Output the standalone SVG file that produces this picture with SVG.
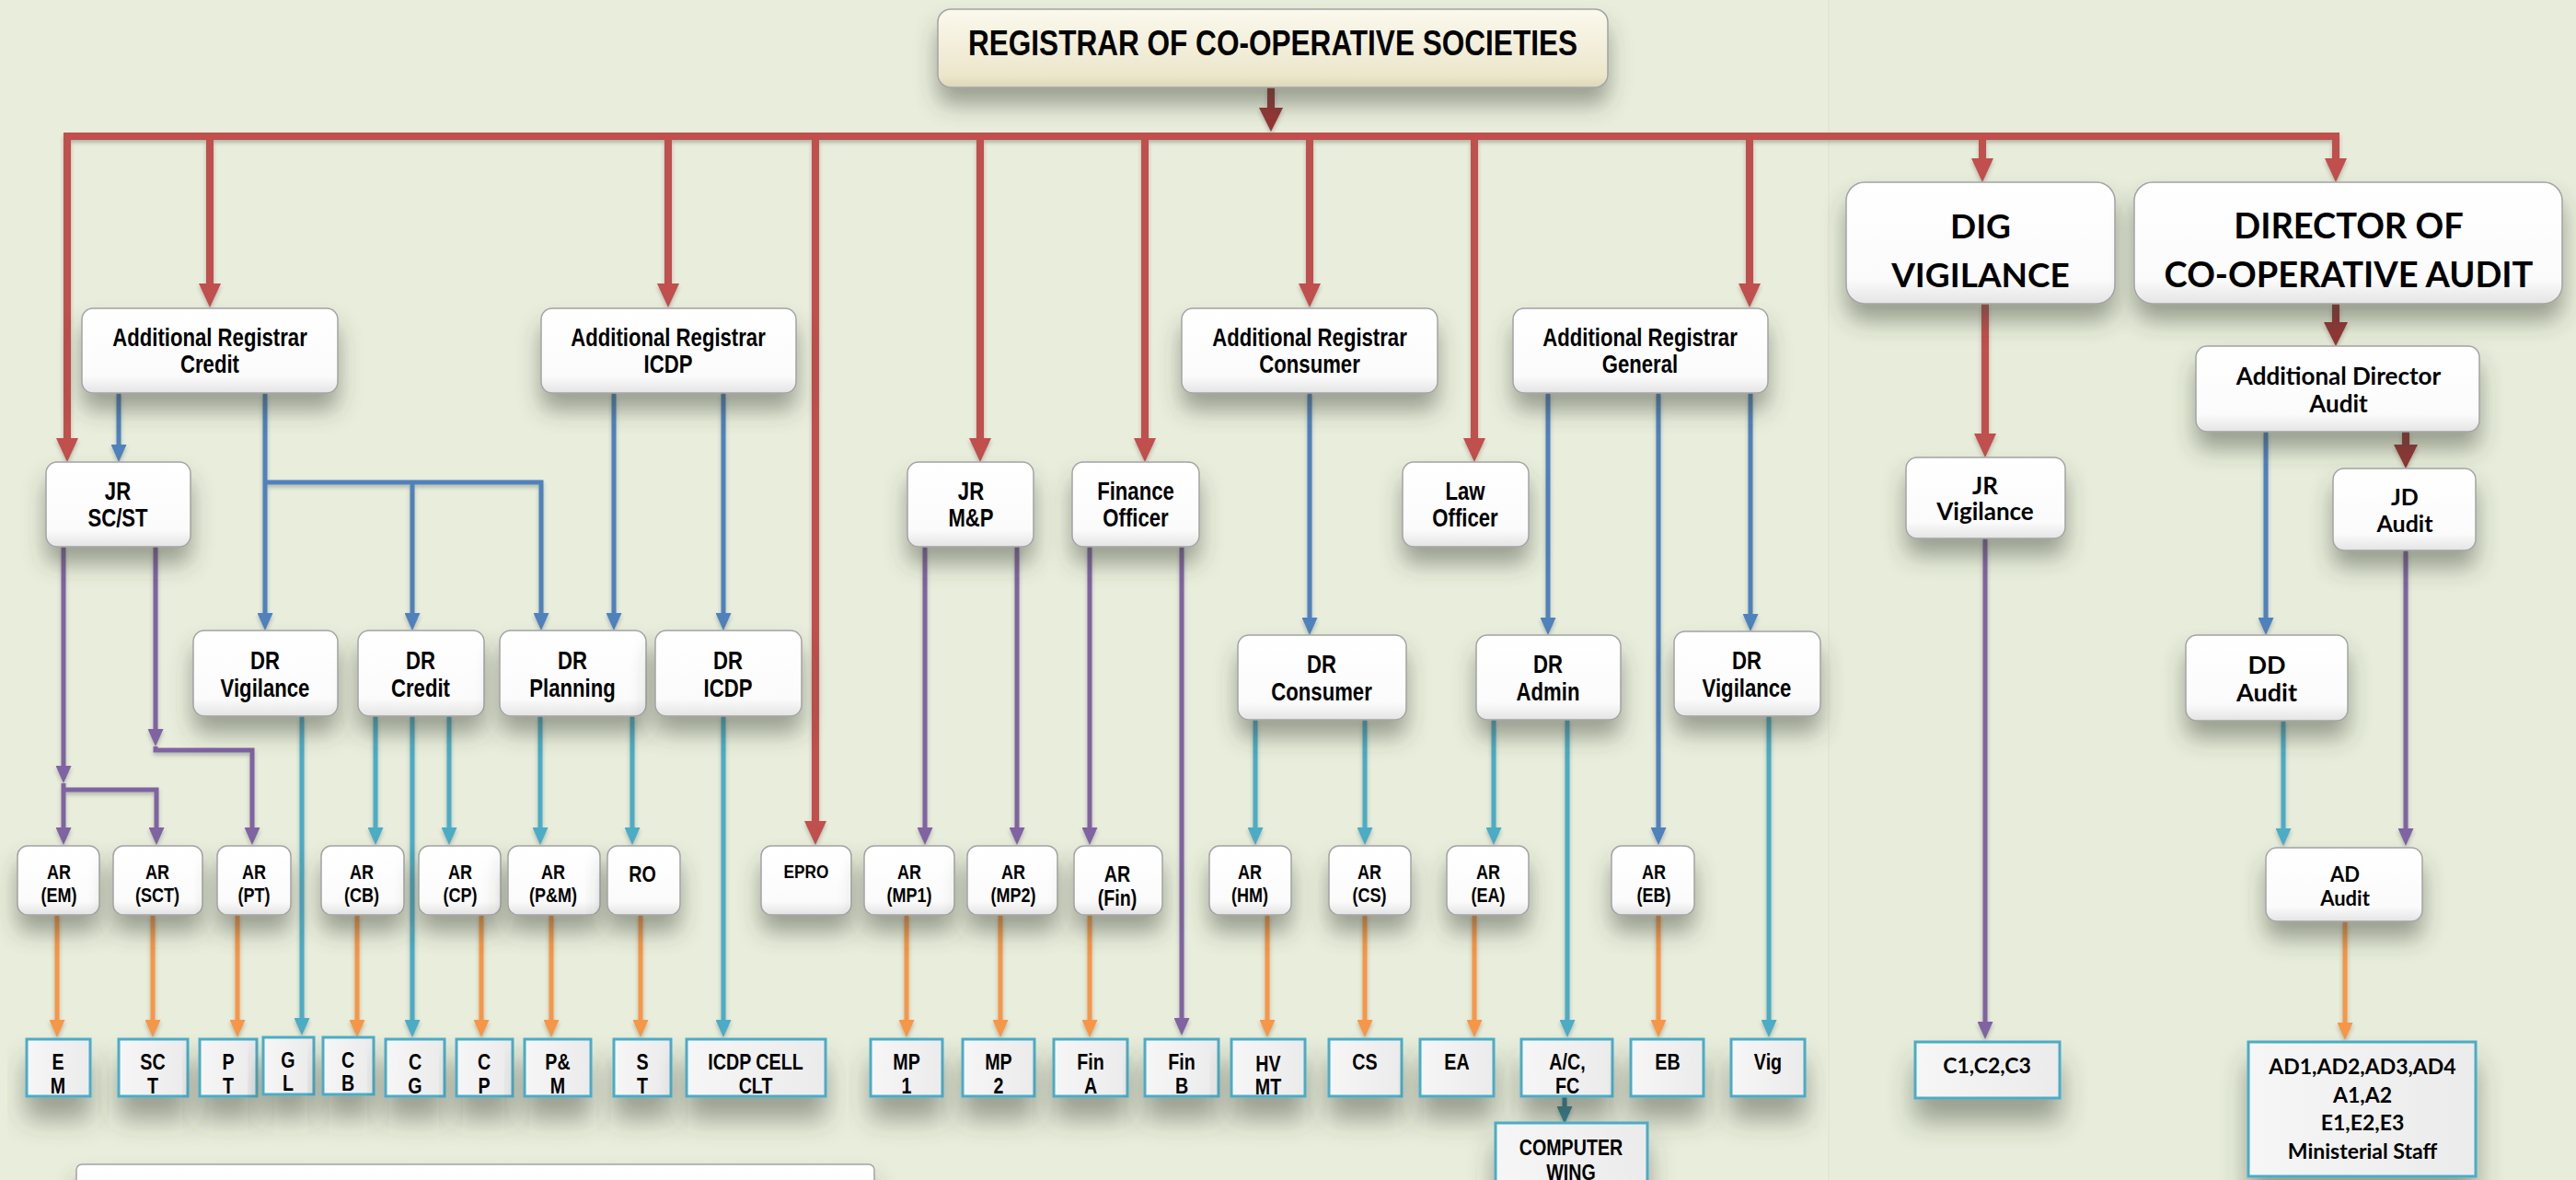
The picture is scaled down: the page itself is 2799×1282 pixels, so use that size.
<svg xmlns="http://www.w3.org/2000/svg" width="2799" height="1282" viewBox="0 0 2799 1282">
<defs>
<linearGradient id="gW" x1="0" y1="0" x2="0" y2="1"><stop offset="0" stop-color="#ffffff"/><stop offset="0.8" stop-color="#fbfbfb"/><stop offset="1" stop-color="#e4e4e4"/></linearGradient>
<linearGradient id="gTop" x1="0" y1="0" x2="0" y2="1"><stop offset="0" stop-color="#fbf9ee"/><stop offset="0.85" stop-color="#ece6cb"/><stop offset="1" stop-color="#ddd6b8"/></linearGradient>
<linearGradient id="gLeaf" x1="0" y1="0" x2="1" y2="0"><stop offset="0" stop-color="#f6f6f6"/><stop offset="1" stop-color="#ebebeb"/></linearGradient>
<filter id="sh" x="-30%" y="-30%" width="160%" height="200%"><feDropShadow dx="0" dy="18" stdDeviation="12" flood-color="#3a4230" flood-opacity="0.45"/></filter>
<filter id="sh2" x="-30%" y="-30%" width="160%" height="240%"><feDropShadow dx="0" dy="24" stdDeviation="14" flood-color="#3a4230" flood-opacity="0.45"/></filter>
<filter id="ls" filterUnits="userSpaceOnUse" x="0" y="0" width="2799" height="1282"><feDropShadow dx="0" dy="3" stdDeviation="2" flood-color="#303828" flood-opacity="0.3"/></filter>
<marker id="mR" markerUnits="userSpaceOnUse" markerWidth="26" markerHeight="24" viewBox="0 0 26 24" refX="0" refY="12" orient="auto"><path d="M0,0 L26,12 L0,24 z" fill="#c0504d"/></marker>
<marker id="mD" markerUnits="userSpaceOnUse" markerWidth="26" markerHeight="26" viewBox="0 0 26 26" refX="0" refY="13" orient="auto"><path d="M0,0 L26,13 L0,26 z" fill="#943634"/></marker>
<marker id="mB" markerUnits="userSpaceOnUse" markerWidth="19" markerHeight="17" viewBox="0 0 19 17" refX="0" refY="8.5" orient="auto"><path d="M0,0 L19,8.5 L0,17 z" fill="#4f81bd"/></marker>
<marker id="mP" markerUnits="userSpaceOnUse" markerWidth="19" markerHeight="17" viewBox="0 0 19 17" refX="0" refY="8.5" orient="auto"><path d="M0,0 L19,8.5 L0,17 z" fill="#8064a2"/></marker>
<marker id="mC" markerUnits="userSpaceOnUse" markerWidth="19" markerHeight="17" viewBox="0 0 19 17" refX="0" refY="8.5" orient="auto"><path d="M0,0 L19,8.5 L0,17 z" fill="#4bacc6"/></marker>
<marker id="mO" markerUnits="userSpaceOnUse" markerWidth="19" markerHeight="17" viewBox="0 0 19 17" refX="0" refY="8.5" orient="auto"><path d="M0,0 L19,8.5 L0,17 z" fill="#f79646"/></marker>
<marker id="mT" markerUnits="userSpaceOnUse" markerWidth="19" markerHeight="17" viewBox="0 0 19 17" refX="0" refY="8.5" orient="auto"><path d="M0,0 L19,8.5 L0,17 z" fill="#31849b"/></marker>
</defs>
<style>
.box{fill:url(#gW);stroke:#a3a3a3;stroke-width:1.5;filter:url(#sh)}
.top{fill:url(#gTop);stroke:#a3a3a3;stroke-width:1.5;filter:url(#sh)}
.leaf{fill:url(#gLeaf);stroke:#4bacc6;stroke-width:3;filter:url(#sh2)}
.t{font-family:"Liberation Sans",Arial,sans-serif;font-weight:bold;text-anchor:middle;fill:#000;transform-box:fill-box;transform-origin:center;transform:scaleX(0.82)}
.c{font-family:Lato,"Liberation Sans",sans-serif;font-weight:bold;text-anchor:middle;fill:#000}
.big{font-size:27px}.s24{font-size:24px}.s21{font-size:21px}.s22{font-size:22px}
.cn path{fill:none;stroke-width:5}
.cn .r{stroke:#c0504d;stroke-width:8;marker-end:url(#mR)}
.cn .rl{stroke:#c0504d;stroke-width:8}
.cn .d{stroke:#943634;stroke-width:8;marker-end:url(#mD)}
.cn .b{stroke:#4f81bd;marker-end:url(#mB)}
.cn .p{stroke:#8064a2;marker-end:url(#mP)}
.cn .c{stroke:#4bacc6;marker-end:url(#mC)}
.cn .o{stroke:#f79646;marker-end:url(#mO)}
.cn .tl{stroke:#31849b;marker-end:url(#mT)}
</style>
<rect x="0" y="0" width="2799" height="1282" fill="#e9eedc"/>
<rect x="1987" y="0" width="812" height="1282" fill="#e7edda"/>
<line x1="1987" y1="0" x2="1987" y2="1282" stroke="#dde3cf" stroke-width="1"/>

<g id="connectors" class="cn" filter="url(#ls)">
<path class="rl" d="M69,148 H2542"/>
<path class="r" d="M73,148 V476"/>
<path class="r" d="M228,148 V308"/>
<path class="r" d="M726,148 V308"/>
<path class="r" d="M886,148 V892"/>
<path class="r" d="M1065,148 V476"/>
<path class="r" d="M1244,148 V476"/>
<path class="r" d="M1423,148 V308"/>
<path class="r" d="M1602,148 V476"/>
<path class="r" d="M1901,148 V308"/>
<path class="r" d="M2154,148 V172"/>
<path class="r" d="M2538,148 V172"/>
<path class="r" d="M2157,330 V471"/>
<path class="d" d="M1381,95 V117"/>
<path class="d" d="M2538,330 V350"/>
<path class="d" d="M2614,469 V483"/>
<path class="b" d="M129,427 V483"/>
<path class="b" d="M288,427 V666"/>
<path class="b" d="M288,524 H588 V666"/>
<path class="b" d="M448,524 V666"/>
<path class="b" d="M667,427 V666"/>
<path class="b" d="M786,427 V666"/>
<path class="b" d="M1423,427 V671"/>
<path class="b" d="M1682,427 V671"/>
<path class="b" d="M1802,427 V899"/>
<path class="b" d="M1902,427 V667"/>
<path class="b" d="M2462,469 V671"/>
<path class="p" d="M69,594 V832"/>
<path class="p" d="M69,851 V899"/>
<path class="p" d="M69,858 H170 V899"/>
<path class="p" d="M169,594 V792"/>
<path class="p" d="M169,811 V815 H274 V899"/>
<path class="p" d="M1005,594 V899"/>
<path class="p" d="M1105,594 V899"/>
<path class="p" d="M1184,594 V899"/>
<path class="p" d="M1284,594 V1106"/>
<path class="p" d="M2157,585 V1110"/>
<path class="p" d="M2614,598 V900"/>
<path class="c" d="M328,778 V1106"/>
<path class="c" d="M408,778 V899"/>
<path class="c" d="M448,778 V1108"/>
<path class="c" d="M488,778 V899"/>
<path class="c" d="M587,778 V899"/>
<path class="c" d="M687,778 V899"/>
<path class="c" d="M786,778 V1108"/>
<path class="c" d="M1364,782 V899"/>
<path class="c" d="M1483,782 V899"/>
<path class="c" d="M1623,782 V899"/>
<path class="c" d="M1703,782 V1108"/>
<path class="c" d="M1922,778 V1108"/>
<path class="c" d="M2481,783 V900"/>
<path class="o" d="M62,994 V1108"/>
<path class="o" d="M166,994 V1108"/>
<path class="o" d="M258,994 V1108"/>
<path class="o" d="M388,994 V1108"/>
<path class="o" d="M523,994 V1108"/>
<path class="o" d="M599,994 V1108"/>
<path class="o" d="M696,994 V1108"/>
<path class="o" d="M985,994 V1108"/>
<path class="o" d="M1087,994 V1108"/>
<path class="o" d="M1184,994 V1108"/>
<path class="o" d="M1377,994 V1108"/>
<path class="o" d="M1483,994 V1108"/>
<path class="o" d="M1602,994 V1108"/>
<path class="o" d="M1802,994 V1108"/>
<path class="o" d="M2548,1001 V1111"/>
<path class="tl" d="M1700,1191 V1202"/>
</g>

<g id="n-registrar"><rect class="top" x="1019" y="10" width="728" height="85" rx="14"/><text class="t" x="1383" y="60" font-size="38.5">REGISTRAR OF CO-OPERATIVE SOCIETIES</text></g>

<g id="n-ar-credit"><rect class="box" x="89" y="335" width="278" height="92" rx="12"/><text class="t big" x="228" y="376">Additional Registrar</text><text class="t big" x="228" y="405">Credit</text></g>
<g id="n-ar-icdp"><rect class="box" x="588" y="335" width="277" height="92" rx="12"/><text class="t big" x="726" y="376">Additional Registrar</text><text class="t big" x="726" y="405">ICDP</text></g>
<g id="n-ar-consumer"><rect class="box" x="1284" y="335" width="278" height="92" rx="12"/><text class="t big" x="1423" y="376">Additional Registrar</text><text class="t big" x="1423" y="405">Consumer</text></g>
<g id="n-ar-general"><rect class="box" x="1644" y="335" width="277" height="92" rx="12"/><text class="t big" x="1782" y="376">Additional Registrar</text><text class="t big" x="1782" y="405">General</text></g>

<g id="n-jr-scst"><rect class="box" x="50" y="502" width="157" height="92" rx="12"/><text class="t big" x="128" y="543">JR</text><text class="t big" x="128" y="572">SC/ST</text></g>
<g id="n-jr-mp"><rect class="box" x="986" y="502" width="137" height="92" rx="12"/><text class="t big" x="1055" y="543">JR</text><text class="t big" x="1055" y="572">M&amp;P</text></g>
<g id="n-finance"><rect class="box" x="1165" y="502" width="138" height="92" rx="12"/><text class="t big" x="1234" y="543">Finance</text><text class="t big" x="1234" y="572">Officer</text></g>
<g id="n-law"><rect class="box" x="1524" y="502" width="137" height="92" rx="12"/><text class="t big" x="1592" y="543">Law</text><text class="t big" x="1592" y="572">Officer</text></g>

<g id="n-dr-vig1"><rect class="box" x="210" y="685" width="157" height="93" rx="12"/><text class="t big" x="288" y="727">DR</text><text class="t big" x="288" y="757">Vigilance</text></g>
<g id="n-dr-credit"><rect class="box" x="389" y="685" width="137" height="93" rx="12"/><text class="t big" x="457" y="727">DR</text><text class="t big" x="457" y="757">Credit</text></g>
<g id="n-dr-planning"><rect class="box" x="543" y="685" width="159" height="93" rx="12"/><text class="t big" x="622" y="727">DR</text><text class="t big" x="622" y="757">Planning</text></g>
<g id="n-dr-icdp"><rect class="box" x="712" y="685" width="159" height="93" rx="12"/><text class="t big" x="791" y="727">DR</text><text class="t big" x="791" y="757">ICDP</text></g>
<g id="n-dr-consumer"><rect class="box" x="1345" y="690" width="183" height="92" rx="12"/><text class="t big" x="1436" y="731">DR</text><text class="t big" x="1436" y="761">Consumer</text></g>
<g id="n-dr-admin"><rect class="box" x="1604" y="690" width="157" height="92" rx="12"/><text class="t big" x="1682" y="731">DR</text><text class="t big" x="1682" y="761">Admin</text></g>
<g id="n-dr-vig2"><rect class="box" x="1819" y="686" width="159" height="92" rx="12"/><text class="t big" x="1898" y="727">DR</text><text class="t big" x="1898" y="757">Vigilance</text></g>

<g id="n-ar-em"><rect class="box" x="19" y="919" width="89" height="75" rx="11"/><text class="t s22" x="64" y="955">AR</text><text class="t s22" x="64" y="980">(EM)</text></g>
<g id="n-ar-sct"><rect class="box" x="123" y="919" width="97" height="75" rx="11"/><text class="t s22" x="171" y="955">AR</text><text class="t s22" x="171" y="980">(SCT)</text></g>
<g id="n-ar-pt"><rect class="box" x="236" y="919" width="80" height="75" rx="11"/><text class="t s22" x="276" y="955">AR</text><text class="t s22" x="276" y="980">(PT)</text></g>
<g id="n-ar-cb"><rect class="box" x="349" y="919" width="90" height="75" rx="11"/><text class="t s22" x="393" y="955">AR</text><text class="t s22" x="393" y="980">(CB)</text></g>
<g id="n-ar-cp"><rect class="box" x="455" y="919" width="89" height="75" rx="11"/><text class="t s22" x="500" y="955">AR</text><text class="t s22" x="500" y="980">(CP)</text></g>
<g id="n-ar-pm"><rect class="box" x="552" y="919" width="100" height="75" rx="11"/><text class="t s22" x="601" y="955">AR</text><text class="t s22" x="601" y="980">(P&amp;M)</text></g>
<g id="n-ro"><rect class="box" x="660" y="919" width="79" height="75" rx="11"/><text class="t s24" x="698" y="958">RO</text></g>
<g id="n-epro"><rect class="box" x="827" y="919" width="98" height="75" rx="11"/><text class="t s21" x="876" y="954">EPRO</text></g>
<g id="n-ar-mp1"><rect class="box" x="939" y="919" width="98" height="75" rx="11"/><text class="t s22" x="988" y="955">AR</text><text class="t s22" x="988" y="980">(MP1)</text></g>
<g id="n-ar-mp2"><rect class="box" x="1051" y="919" width="98" height="75" rx="11"/><text class="t s22" x="1101" y="955">AR</text><text class="t s22" x="1101" y="980">(MP2)</text></g>
<g id="n-ar-fin"><rect class="box" x="1167" y="919" width="96" height="75" rx="11"/><text class="t s24" x="1214" y="958">AR</text><text class="t s24" x="1214" y="984">(Fin)</text></g>
<g id="n-ar-hm"><rect class="box" x="1314" y="919" width="89" height="75" rx="11"/><text class="t s22" x="1358" y="955">AR</text><text class="t s22" x="1358" y="980">(HM)</text></g>
<g id="n-ar-cs"><rect class="box" x="1444" y="919" width="89" height="75" rx="11"/><text class="t s22" x="1488" y="955">AR</text><text class="t s22" x="1488" y="980">(CS)</text></g>
<g id="n-ar-ea"><rect class="box" x="1572" y="919" width="89" height="75" rx="11"/><text class="t s22" x="1617" y="955">AR</text><text class="t s22" x="1617" y="980">(EA)</text></g>
<g id="n-ar-eb"><rect class="box" x="1751" y="919" width="90" height="75" rx="11"/><text class="t s22" x="1797" y="955">AR</text><text class="t s22" x="1797" y="980">(EB)</text></g>

<g id="l-em"><rect class="leaf" x="29" y="1129" width="69" height="62"/><text class="t s24" x="63" y="1162">E</text><text class="t s24" x="63" y="1188">M</text></g>
<g id="l-sct"><rect class="leaf" x="129" y="1129" width="75" height="62"/><text class="t s24" x="166" y="1162">SC</text><text class="t s24" x="166" y="1188">T</text></g>
<g id="l-pt"><rect class="leaf" x="217" y="1129" width="62" height="62"/><text class="t s24" x="248" y="1162">P</text><text class="t s24" x="248" y="1188">T</text></g>
<g id="l-gl"><rect class="leaf" x="286" y="1127" width="55" height="62"/><text class="t s24" x="313" y="1160">G</text><text class="t s24" x="313" y="1185">L</text></g>
<g id="l-cb"><rect class="leaf" x="351" y="1127" width="55" height="62"/><text class="t s24" x="378" y="1160">C</text><text class="t s24" x="378" y="1185">B</text></g>
<g id="l-cg"><rect class="leaf" x="419" y="1129" width="64" height="62"/><text class="t s24" x="451" y="1162">C</text><text class="t s24" x="451" y="1188">G</text></g>
<g id="l-cp"><rect class="leaf" x="496" y="1129" width="61" height="62"/><text class="t s24" x="526" y="1162">C</text><text class="t s24" x="526" y="1188">P</text></g>
<g id="l-pm"><rect class="leaf" x="570" y="1129" width="72" height="62"/><text class="t s24" x="606" y="1162">P&amp;</text><text class="t s24" x="606" y="1188">M</text></g>
<g id="l-st"><rect class="leaf" x="667" y="1129" width="62" height="62"/><text class="t s24" x="698" y="1162">S</text><text class="t s24" x="698" y="1188">T</text></g>
<g id="l-icdp"><rect class="leaf" x="746" y="1129" width="151" height="62"/><text class="t s24" x="821" y="1162">ICDP CELL</text><text class="t s24" x="821" y="1188">CLT</text></g>
<g id="l-mp1"><rect class="leaf" x="946" y="1129" width="78" height="62"/><text class="t s24" x="985" y="1162">MP</text><text class="t s24" x="985" y="1188">1</text></g>
<g id="l-mp2"><rect class="leaf" x="1046" y="1129" width="78" height="62"/><text class="t s24" x="1085" y="1162">MP</text><text class="t s24" x="1085" y="1188">2</text></g>
<g id="l-fina"><rect class="leaf" x="1145" y="1129" width="80" height="62"/><text class="t s24" x="1185" y="1162">Fin</text><text class="t s24" x="1185" y="1188">A</text></g>
<g id="l-finb"><rect class="leaf" x="1244" y="1129" width="80" height="62"/><text class="t s24" x="1284" y="1162">Fin</text><text class="t s24" x="1284" y="1188">B</text></g>
<g id="l-hvmt"><rect class="leaf" x="1338" y="1129" width="80" height="62"/><text class="t s24" x="1378" y="1164">HV</text><text class="t s24" x="1378" y="1189">MT</text></g>
<g id="l-cs"><rect class="leaf" x="1444" y="1129" width="79" height="62"/><text class="t s24" x="1483" y="1162">CS</text></g>
<g id="l-ea"><rect class="leaf" x="1543" y="1129" width="80" height="62"/><text class="t s24" x="1583" y="1162">EA</text></g>
<g id="l-acfc"><rect class="leaf" x="1653" y="1129" width="99" height="62"/><text class="t s24" x="1703" y="1162">A/C,</text><text class="t s24" x="1703" y="1188">FC</text></g>
<g id="l-eb"><rect class="leaf" x="1772" y="1129" width="79" height="62"/><text class="t s24" x="1812" y="1162">EB</text></g>
<g id="l-vig"><rect class="leaf" x="1881" y="1129" width="80" height="62"/><text class="t s24" x="1921" y="1162">Vig</text></g>
<g id="l-computer"><rect class="leaf" x="1625" y="1220" width="165" height="80"/><text class="t s24" x="1707" y="1255">COMPUTER</text><text class="t s24" x="1707" y="1282">WING</text></g>
<g id="bottom-bar"><rect class="box" x="83" y="1265" width="867" height="40" rx="6"/></g>

<g id="n-dig"><rect class="box" x="2006" y="198" width="292" height="132" rx="20"/><text class="c" x="2152" y="259" font-size="37">DIG</text><text class="c" x="2152" y="312" font-size="37">VIGILANCE</text></g>
<g id="n-director"><rect class="box" x="2319" y="198" width="465" height="132" rx="20"/><text class="c" x="2552" y="259" font-size="38">DIRECTOR OF</text><text class="c" x="2552" y="312" font-size="38">CO-OPERATIVE AUDIT</text></g>
<g id="n-ada"><rect class="box" x="2386" y="376" width="308" height="93" rx="12"/><text class="c" x="2541" y="418" font-size="26">Additional Director</text><text class="c" x="2541" y="448" font-size="26">Audit</text></g>
<g id="n-jr-vig"><rect class="box" x="2071" y="497" width="173" height="88" rx="12"/><text class="c" x="2157" y="537" font-size="26">JR</text><text class="c" x="2157" y="565" font-size="26">Vigilance</text></g>
<g id="n-jd"><rect class="box" x="2535" y="509" width="155" height="89" rx="12"/><text class="c" x="2613" y="549" font-size="25">JD</text><text class="c" x="2613" y="578" font-size="25">Audit</text></g>
<g id="n-dd"><rect class="box" x="2375" y="690" width="176" height="93" rx="12"/><text class="c" x="2463" y="732" font-size="27">DD</text><text class="c" x="2463" y="762" font-size="27">Audit</text></g>
<g id="n-ad"><rect class="box" x="2462" y="921" width="170" height="80" rx="12"/><text class="c" x="2548" y="958" font-size="22">AD</text><text class="c" x="2548" y="984" font-size="22">Audit</text></g>
<g id="l-c123"><rect class="leaf" x="2081" y="1132" width="157" height="61"/><text class="c" x="2159" y="1166" font-size="23">C1,C2,C3</text></g>
<g id="l-ad1"><rect class="leaf" x="2443" y="1132" width="247" height="146"/><text class="c" x="2567" y="1167" font-size="23">AD1,AD2,AD3,AD4</text><text class="c" x="2567" y="1198" font-size="23">A1,A2</text><text class="c" x="2567" y="1228" font-size="23">E1,E2,E3</text><text class="c" x="2567" y="1259" font-size="23">Ministerial Staff</text></g>
</svg>
